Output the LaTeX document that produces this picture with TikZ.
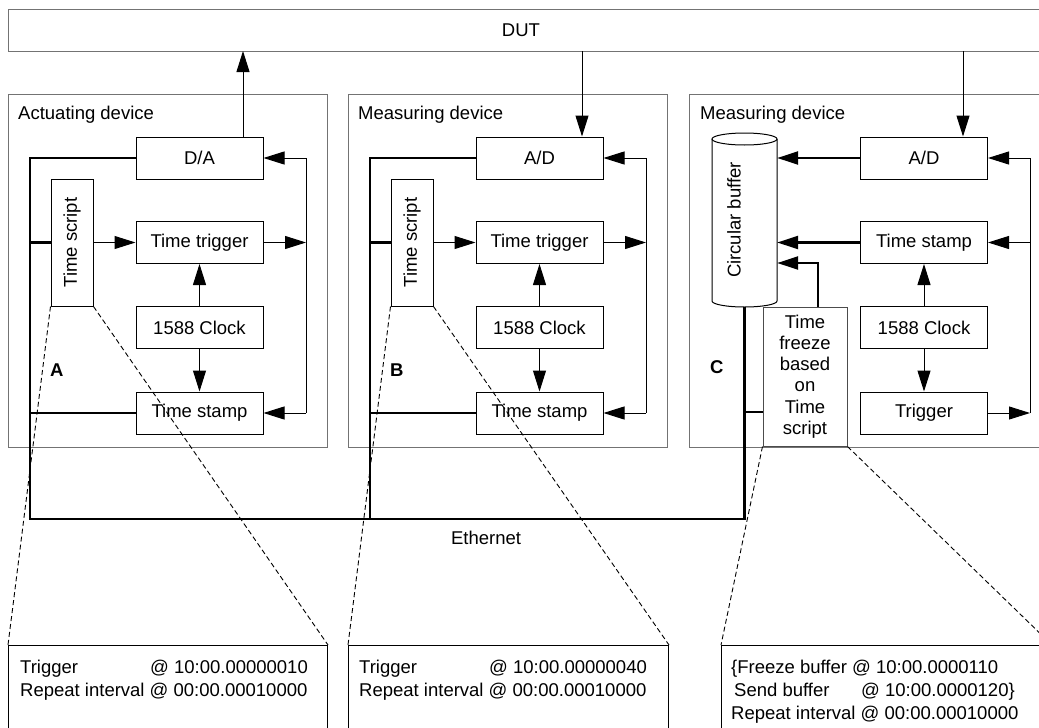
\documentclass[tikz,border=0pt]{standalone}
\usepackage{fontspec}
\setmainfont{Liberation Sans}
\usetikzlibrary{arrows.meta}
\newcommand{\dgfont}{\fontsize{18.5pt}{23pt}\selectfont}

\begin{document}
\begin{tikzpicture}[x=1pt,y=-1pt]
    \tikzstyle{every node}+=[inner sep=0pt, font=\dgfont]
    \tikzstyle{blk}=[draw=black, line width=1pt, minimum width=127pt, minimum height=42pt]
    \tikzstyle{dev}=[draw=black!55, line width=1pt]
    \tikzstyle{arr}=[line width=1pt, -{Triangle[length=21pt,width=13pt]}]
    \tikzstyle{eth}=[line width=2.6pt]
    \tikzstyle{zoomln}=[line width=0.9pt, dash pattern=on 5pt off 3pt]
    \clip (0,0) rectangle (1039,728);
    \fill [white] (0,0) rectangle (1039,728);

    % DUT
    \node (dut) [dev, minimum width=1042pt, minimum height=42pt, anchor=north west] at (8,9) {};
    \node (dutlab) at (521,30) {DUT};

    % actuating device A
    \node (dev1) [dev, minimum width=319pt, minimum height=353pt, anchor=north west] at (8,94) {};
    \node (lab1) [anchor=base west] at (18,119) {Actuating device};
    \node (da1) [blk] at (199.5,158) {D/A};
    \node (scr1) [blk, minimum width=42pt, minimum height=127pt] at (72,242.5) {\rotatebox{90}{Time script}};
    \node (trg1) [blk] at (199.5,242.5) {Time trigger};
    \node (clk1) [blk] at (199.5,327.5) {1588 Clock};
    \node (stp1) [blk] at (199.5,413) {Time stamp};
    \node (A) [anchor=west, font=\dgfont\bfseries] at (50,370) {A};
    \coordinate (up1) at (243,51);
    \coordinate (bus1) at (306,242.5);
    \draw [arr] (da1.north -| up1) -- (up1);
    \draw [arr] (scr1) -- (trg1);
    \draw [arr] (clk1) -- (trg1);
    \draw [arr] (clk1) -- (stp1);
    \draw [arr] (trg1) -- (bus1);
    \draw [line width=1pt] (bus1 |- da1) -- (bus1 |- stp1);
    \draw [arr] (bus1 |- da1) -- (da1);
    \draw [arr] (bus1 |- stp1) -- (stp1);

    % measuring device B
    \node (dev2) [dev, minimum width=319pt, minimum height=353pt, anchor=north west] at (348,94) {};
    \node (lab2) [anchor=base west] at (358,119) {Measuring device};
    \node (ad2) [blk] at (539.5,158) {A/D};
    \node (scr2) [blk, minimum width=42pt, minimum height=127pt] at (412,242.5) {\rotatebox{90}{Time script}};
    \node (trg2) [blk] at (539.5,242.5) {Time trigger};
    \node (clk2) [blk] at (539.5,327.5) {1588 Clock};
    \node (stp2) [blk] at (539.5,413) {Time stamp};
    \node (B) [anchor=west, font=\dgfont\bfseries] at (390,370) {B};
    \coordinate (dn2) at (582,51);
    \coordinate (bus2) at (646,242.5);
    \draw [arr] (dn2) -- (ad2.north -| dn2);
    \draw [arr] (scr2) -- (trg2);
    \draw [arr] (clk2) -- (trg2);
    \draw [arr] (clk2) -- (stp2);
    \draw [arr] (trg2) -- (bus2);
    \draw [line width=1pt] (bus2 |- ad2) -- (bus2 |- stp2);
    \draw [arr] (bus2 |- ad2) -- (ad2);
    \draw [arr] (bus2 |- stp2) -- (stp2);

    % measuring device C
    \node (dev3) [dev, minimum width=362pt, minimum height=353pt, anchor=north west] at (689,94) {};
    \node (lab3) [anchor=base west] at (700,119) {Measuring device};
    \node (buf) [minimum width=65pt, minimum height=174pt] at (744.5,220) {};
    \node (buflab) at (734,220) {\rotatebox{90}{Circular buffer}};
    \draw [line width=1pt] (744.5,139) ellipse [x radius=32.5, y radius=6];
    \draw [line width=1pt] (712,139) -- (712,301) arc [start angle=180, end angle=0, x radius=32.5, y radius=6] -- (777,139);
    \node (ad3) [blk] at (924,158) {A/D};
    \node (stp3) [blk] at (924,242.5) {Time stamp};
    \node (clk3) [blk] at (924,327.5) {1588 Clock};
    \node (trg3) [blk] at (924,413) {Trigger};
    \node (frz) [blk, draw=black!70, minimum width=84pt, minimum height=139pt, align=center, font=\fontsize{18.5pt}{21.2pt}\selectfont] at (805,376.5) {Time\\freeze\\based\\on\\Time\\script};
    \node (C) [anchor=west, font=\dgfont\bfseries] at (710,367) {C};
    \coordinate (dn3) at (963,51);
    \coordinate (bus3) at (1030,413);
    \coordinate (fz) at (818,263);
    \draw [arr] (dn3) -- (ad3.north -| dn3);
    \draw [arr] (clk3) -- (stp3);
    \draw [arr] (clk3) -- (trg3);
    \draw [arr] (trg3) -- (bus3);
    \draw [line width=1pt] (bus3) -- (bus3 |- ad3);
    \draw [arr] (bus3 |- ad3) -- (ad3);
    \draw [arr] (bus3 |- stp3) -- (stp3);
    \draw [arr, eth] (ad3) -- (ad3 -| buf.east);
    \draw [arr, eth] (stp3) -- (stp3 -| buf.east);
    \draw [arr, eth] (frz.north -| fz) -- (fz) -- (fz -| buf.east);

    % ethernet
    \coordinate (eth1) at (30,519);
    \coordinate (eth2) at (370,519);
    \coordinate (eth3) at (744.5,519);
    \coordinate (eb3) at (744.5,412);
    \draw [eth] (da1.west) -- (da1.west -| eth1) -- (eth1) -- (eth3) -- (buf.south);
    \draw [eth] (scr1.west -| eth1) -- (scr1.west);
    \draw [eth] (stp1.west -| eth1) -- (stp1.west);
    \draw [eth] (ad2.west) -- (ad2.west -| eth2) -- (eth2);
    \draw [eth] (scr2.west -| eth2) -- (scr2.west);
    \draw [eth] (stp2.west -| eth2) -- (stp2.west);
    \draw [eth] (eb3) -- (eb3 -| frz.west);
    \node (ethlab) at (486,538) {Ethernet};

    % time scripts
    \node (note1) [draw=black, line width=1pt, minimum width=319pt, minimum height=120pt, anchor=north west] at (8,645) {};
    \node (txt1) [anchor=north west, align=left] at (20,660) {\makebox[130pt][l]{Trigger}@ 10:00.00000010\\Repeat interval @ 00:00.00010000};
    \node (note2) [draw=black, line width=1pt, minimum width=320pt, minimum height=120pt, anchor=north west] at (348,645) {};
    \node (txt2) [anchor=north west, align=left] at (359,660) {\makebox[130pt][l]{Trigger}@ 10:00.00000040\\Repeat interval @ 00:00.00010000};
    \node (note3) [draw=black, line width=1pt, minimum width=330pt, minimum height=120pt, anchor=north west] at (721,645) {};
    \node (txt3) [anchor=north west, align=left] at (731,660) {\{Freeze buffer @ 10:00.0000110\\\hspace*{3pt}\makebox[127pt][l]{Send buffer}@ 10:00.0000120\}\\Repeat interval @ 00:00.00010000};
    \draw [zoomln] (scr1.south west) -- (note1.north west);
    \draw [zoomln] (scr1.south east) -- (note1.north east);
    \draw [zoomln] (scr2.south west) -- (note2.north west);
    \draw [zoomln] (scr2.south east) -- (note2.north east);
    \draw [zoomln] (frz.south west) -- (note3.north west);
    \draw [zoomln] (frz.south east) -- (note3.north east);
\end{tikzpicture}
\end{document}
